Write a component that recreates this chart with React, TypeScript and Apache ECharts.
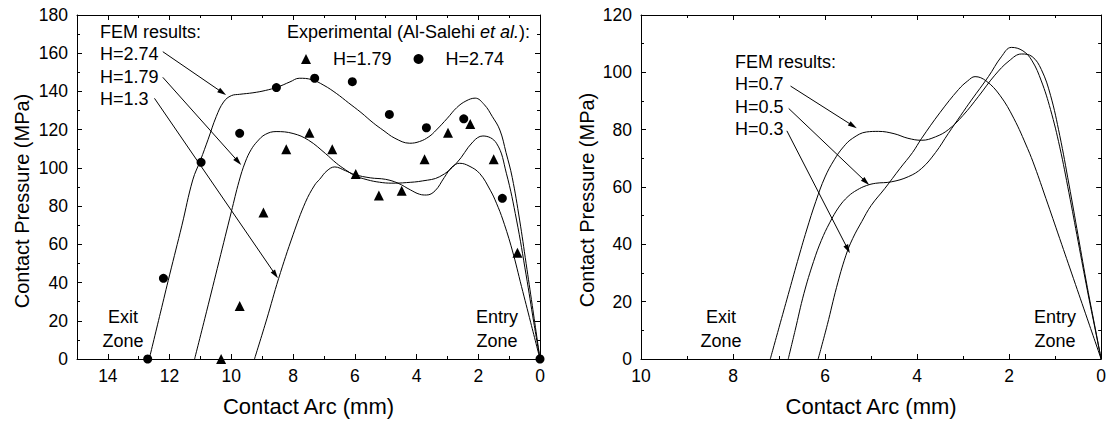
import React, { useEffect, useRef } from "react";
import * as echarts from "echarts";

const FONT = "'Liberation Sans', Arial, Helvetica, sans-serif";

// ---------- Left panel: FEM curves ----------
const fem274X = [12.66, 12.3, 12.0, 11.6, 11.25, 11.0, 10.75, 10.49, 10.25, 10.0, 9.73, 9.3, 8.9, 8.5, 8.1, 7.8, 7.4, 7.0, 6.6, 6.2, 5.8, 5.4, 5.09, 4.7, 4.22, 3.9, 3.6, 3.36, 3.0, 2.7, 2.4, 2.1, 1.8, 1.55, 1.3, 1.1, 0.9, 0.66, 0.45, 0.25, 0];
const fem274Y = [0, 24, 44, 70, 93.7, 104, 115, 126.8, 134.5, 137.8, 138.5, 139.3, 140.5, 142.3, 145, 146.9, 146.2, 143.2, 139, 134, 129, 123.5, 119.8, 115.5, 112.9, 113.8, 116.3, 119.8, 126, 131.5, 135, 136.5, 133, 127, 119.8, 108, 95, 72.7, 50, 28, 0];

const fem179X = [11.19, 10.8, 10.4, 10.0, 9.75, 9.55, 9.36, 9.15, 8.9, 8.55, 8.0, 7.5, 6.95, 6.6, 6.3, 6.0, 5.6, 5.2, 4.8, 4.33, 3.8, 3.25, 2.71, 2.17, 1.85, 1.41, 1.09, 0.76, 0.45, 0.2, 0];
const fem179Y = [0, 25, 51, 77, 93, 103, 109.5, 114, 117.5, 119, 118, 114.5, 107.5, 102.5, 99, 96, 93.8, 92.5, 92, 92.3, 93.2, 95.4, 102.4, 113.7, 116.7, 112.9, 97.2, 72.7, 44, 19, 0];

const fem13X = [9.25, 8.85, 8.47, 8.0, 7.6, 7.3, 7.14, 6.9, 6.65, 6.3, 6.0, 5.5, 5.0, 4.6, 4.2, 3.9, 3.68, 3.4, 3.1, 2.85, 2.6, 2.3, 1.95, 1.6, 1.41, 1.2, 0.9, 0.6, 0.3, 0];
const fem13Y = [0, 21, 42, 65, 82, 91, 94, 98.5, 100.5, 98.5, 96.5, 94.8, 94, 92, 88.5, 86.2, 85.8, 88, 95, 100.5, 102.4, 101, 97, 88, 81.5, 72.7, 57, 38, 19, 0];

// ---------- Left panel: experimental points ----------
const exp274X = [12.71, 12.2, 10.98, 9.73, 8.54, 7.3, 6.08, 4.88, 3.68, 2.47, 1.22, 0];
const exp274Y = [0, 42.2, 102.9, 118.1, 142, 146.9, 145.1, 128, 121, 125.7, 84.1, 0];

const exp179X = [10.33, 9.73, 8.96, 8.22, 7.47, 6.73, 5.97, 5.22, 4.48, 3.74, 2.98, 2.26, 1.5, 0.73];
const exp179Y = [0, 27.7, 76.6, 109.7, 118.4, 109.7, 96.8, 85.5, 88.1, 104.5, 118.4, 123, 104.5, 55.6];

// ---------- Right panel: FEM curves ----------
const fem07X = [7.19, 7.0, 6.8, 6.6, 6.4, 6.2, 6.0, 5.8, 5.6, 5.4, 5.1, 4.84, 4.5, 4.2, 3.9, 3.6, 3.32, 3.0, 2.67, 2.31, 2.0, 1.73, 1.5, 1.3, 1.1, 0.9, 0.7, 0.5, 0.3, 0.15, 0];
const fem07Y = [0, 11, 22.5, 34, 45, 55, 63.5, 69.5, 74, 77, 79.2, 79.4, 78.6, 77, 76.3, 77.5, 80, 85, 91.5, 99, 104, 106.4, 105.5, 101, 92, 78, 61, 43, 25, 12.5, 0];

const fem05X = [6.8, 6.65, 6.46, 6.25, 6.08, 5.9, 5.7, 5.5, 5.3, 5.1, 4.9, 4.56, 4.19, 3.9, 3.6, 3.32, 3.05, 2.82, 2.45, 2.17, 1.95, 1.7, 1.5, 1.3, 1.1, 0.9, 0.7, 0.5, 0.3, 0.15, 0];
const fem05Y = [0, 10, 22.8, 34, 41.4, 47.5, 53, 56.7, 59, 60.5, 61.3, 61.8, 63.6, 66.5, 72, 78.7, 85, 90.3, 98.5, 105.4, 108.7, 107.5, 104, 97, 87, 74, 58, 41, 24, 12, 0];

const fem03X = [6.15, 5.95, 5.75, 5.55, 5.4, 5.2, 5.0, 4.7, 4.37, 4.1, 3.9, 3.5, 3.1, 2.9, 2.74, 2.5, 2.2, 1.9, 1.6, 1.44, 1.2, 0.9, 0.6, 0.3, 0];
const fem03Y = [0, 12, 25, 36, 42, 48, 53.5, 59.5, 66.5, 72, 77, 86, 94, 97, 98.5, 97, 92, 84, 73.5, 67, 56, 42, 28, 14, 0];

// ---------- Annotation arrows (data coordinates: [fromX, fromY, toX, toY]) ----------
const leftArrows = [
  [12.22, 160.8, 10.17, 138.1],
  [12.22, 147.4, 9.68, 101.5],
  [12.49, 136.4, 8.49, 42.2],
];
const rightArrows = [
  [6.75, 95.2, 5.31, 80.5],
  [6.79, 87.4, 5.04, 60.7],
  [6.83, 79.6, 5.46, 36.9],
];

const leftLabels = ["FEM results:", "H=2.74", "H=1.79", "H=1.3"];
const rightLabels = ["FEM results:", "H=0.7", "H=0.5", "H=0.3"];
const xTitle = "Contact Arc (mm)";
const yTitle = "Contact Pressure (MPa)";

function pairs(xs: number[], ys: number[]) {
  return xs.map((x, i) => [x, ys[i]]);
}

export default function App() {
  const ref = useRef<HTMLDivElement>(null);
  useEffect(() => {
    const chart = echarts.init(ref.current as HTMLDivElement, null, { renderer: "svg" });
    const black = "#000";

    const xAxisBase = (gridIndex: number, max: number, bottom: boolean) => ({
      type: "value",
      gridIndex,
      min: 0,
      max,
      interval: 2,
      inverse: true,
      position: bottom ? "bottom" : "top",
      axisLine: { show: true, onZero: false, lineStyle: { color: black, width: 1 } },
      axisTick: { show: true, inside: true, length: 5, lineStyle: { color: black } },
      minorTick: { show: true, splitNumber: 2, length: 3, lineStyle: { color: black } },
      splitLine: { show: false },
      axisLabel: {
        show: bottom,
        color: black,
        fontSize: 17.5,
        fontFamily: FONT,
        margin: 8,
        formatter: (v: number) => (v === 15 ? "" : String(v)),
      },
      name: bottom ? xTitle : "",
      nameLocation: "middle",
      nameGap: 36,
      nameTextStyle: { color: black, fontSize: 22, fontFamily: FONT },
    });
    const yAxisBase = (gridIndex: number, max: number, left: boolean) => ({
      type: "value",
      gridIndex,
      min: 0,
      max,
      interval: 20,
      position: left ? "left" : "right",
      axisLine: { show: true, onZero: false, lineStyle: { color: black, width: 1 } },
      axisTick: { show: true, inside: true, length: 5, lineStyle: { color: black } },
      minorTick: { show: true, splitNumber: 2, length: 3, lineStyle: { color: black } },
      splitLine: { show: false },
      axisLabel: { show: left, color: black, fontSize: 17.5, fontFamily: FONT, margin: 9 },
    });

    const lineSeries = (name: string, xi: number, yi: number, xs: number[], ys: number[]) => ({
      type: "line",
      name,
      xAxisIndex: xi,
      yAxisIndex: yi,
      data: pairs(xs, ys),
      smooth: 0.4,
      showSymbol: false,
      symbol: "none",
      lineStyle: { color: black, width: 1 },
      clip: true,
      silent: true,
    });

    chart.setOption({
      animation: false,
      backgroundColor: "#fff",
      grid: [
        { left: 77, top: 15, width: 463, height: 344 },
        { left: 641, top: 15, width: 462, height: 344 },
      ],
      xAxis: [xAxisBase(0, 15, true), xAxisBase(0, 15, false), xAxisBase(1, 10, true), xAxisBase(1, 10, false)],
      yAxis: [yAxisBase(0, 180, true), yAxisBase(0, 180, false), yAxisBase(1, 120, true), yAxisBase(1, 120, false)],
      legend: {
        left: 296,
        top: 45,
        selectedMode: false,
        itemWidth: 10,
        itemHeight: 10,
        itemGap: 22,
        textStyle: { color: black, fontSize: 18, fontFamily: FONT, padding: [0, 0, 0, 17] },
        data: [
          { name: "H=1.79", icon: "triangle" },
          { name: "H=2.74", icon: "circle" },
        ],
      },
      series: [
        lineSeries("FEM H=2.74", 0, 0, fem274X, fem274Y),
        lineSeries("FEM H=1.79", 0, 0, fem179X, fem179Y),
        lineSeries("FEM H=1.3", 0, 0, fem13X, fem13Y),
        {
          type: "scatter",
          name: "H=1.79",
          xAxisIndex: 0,
          yAxisIndex: 0,
          symbol: "triangle",
          symbolSize: 10,
          itemStyle: { color: black, opacity: 1 },
          data: pairs(exp179X, exp179Y),
          clip: false,
          silent: true,
        },
        {
          type: "scatter",
          name: "H=2.74",
          xAxisIndex: 0,
          yAxisIndex: 0,
          symbol: "circle",
          symbolSize: 9,
          itemStyle: { color: black, opacity: 1 },
          data: pairs(exp274X, exp274Y),
          clip: false,
          silent: true,
        },
        lineSeries("FEM H=0.7", 2, 2, fem07X, fem07Y),
        lineSeries("FEM H=0.5", 2, 2, fem05X, fem05Y),
        lineSeries("FEM H=0.3", 2, 2, fem03X, fem03Y),
      ],
    });

    // Annotations built after layout so arrows follow the axes' scales
    const graphics: any[] = [];
    const txt = (text: string, x: number, y: number, align = "left", size = 18, rotation = 0) => ({
      type: "text",
      x,
      y,
      rotation,
      silent: true,
      style: { text, fill: black, font: `${size}px ${FONT}`, align, verticalAlign: "middle" },
    });
    const arrow = (gridIndex: number, a: number[]) => {
      const s = chart.convertToPixel({ gridIndex } as any, [a[0], a[1]]) as number[];
      const t = chart.convertToPixel({ gridIndex } as any, [a[2], a[3]]) as number[];
      const dx = t[0] - s[0];
      const dy = t[1] - s[1];
      const len = Math.hypot(dx, dy);
      const ux = dx / len;
      const uy = dy / len;
      const L = 9;
      const W = 2.6;
      const bx = t[0] - ux * L;
      const by = t[1] - uy * L;
      graphics.push({
        type: "line",
        silent: true,
        shape: { x1: s[0], y1: s[1], x2: bx + ux * 2, y2: by + uy * 2 },
        style: { stroke: black, lineWidth: 1 },
      });
      graphics.push({
        type: "polygon",
        silent: true,
        shape: {
          points: [
            [t[0], t[1]],
            [bx - uy * W, by + ux * W],
            [bx + uy * W, by - ux * W],
          ],
        },
        style: { fill: black },
      });
    };
    leftArrows.forEach((a) => arrow(0, a));
    rightArrows.forEach((a) => arrow(1, a));

    const leftY = [31.5, 54, 76.5, 99];
    leftLabels.forEach((l, i) => graphics.push(txt(l, 100, leftY[i])));
    const rightY = [61.5, 84, 106.5, 129];
    rightLabels.forEach((l, i) => graphics.push(txt(l, 735, rightY[i])));

    graphics.push({
      type: "text",
      x: 287,
      y: 31.5,
      silent: true,
      style: {
        text: "{a|Experimental (Al-Salehi }{b|et al.}{a|):}",
        fill: black,
        verticalAlign: "middle",
        align: "left",
        rich: {
          a: { fontSize: 18, fontFamily: FONT, fill: black },
          b: { fontSize: 18, fontFamily: FONT, fontStyle: "italic", fill: black },
        },
      },
    });

    graphics.push(txt("Exit", 123, 317, "center"));
    graphics.push(txt("Zone", 123, 341, "center"));
    graphics.push(txt("Entry", 497, 317, "center"));
    graphics.push(txt("Zone", 497, 341, "center"));
    graphics.push(txt("Exit", 721, 317, "center"));
    graphics.push(txt("Zone", 721, 341, "center"));
    graphics.push(txt("Entry", 1055, 317, "center"));
    graphics.push(txt("Zone", 1055, 341, "center"));

    // y-axis titles
    graphics.push(txt(yTitle, 22, 201, "center", 20, Math.PI / 2));
    graphics.push(txt(yTitle, 587, 200, "center", 20, Math.PI / 2));

    chart.setOption({ graphic: graphics });

    return () => chart.dispose();
  }, []);
  return (
    <div
      ref={ref}
      style={{ position: "fixed", left: 0, top: 0, width: 1109, height: 422, background: "#fff" }}
    />
  );
}
